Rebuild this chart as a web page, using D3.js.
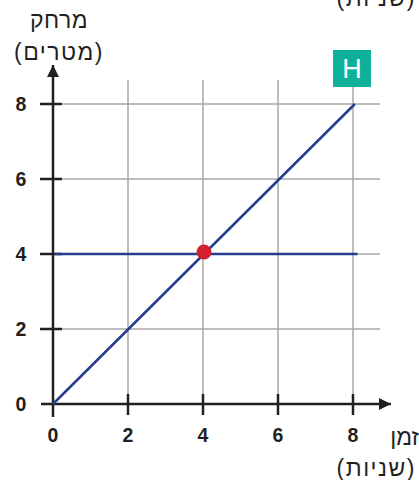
<!DOCTYPE html>
<html>
<head>
<meta charset="utf-8">
<script src="https://cdn.jsdelivr.net/npm/d3@7"></script>
<style>
  body { margin: 0; background: #fff; }
  svg { display: block; font-family: "Liberation Sans", Arial, sans-serif; }
</style>
</head>
<body>
<div id="chart"></div>
<script>
// data
const xTicks = [0, 2, 4, 6, 8];
const yTicks = [0, 2, 4, 6, 8];
const lineA = [[0, 0], [8.05, 8]];      // diagonal
const lineB = [[0.05, 4], [8.12, 4]];   // horizontal
const meetPoint = [[4, 4]];
const yTitle = ["מרחק", "(מטרים)"];
const xTitle = ["זמן", "(שניות)"];
const panelLetter = "H";

const width = 419, height = 480;

const svg = d3.select("#chart").append("svg")
    .attr("width", width)
    .attr("height", height);

// scales
const x = d3.scaleLinear().domain([0, 8]).range([53, 353]);
const y = d3.scaleLinear().domain([0, 8]).range([404, 104]);

// grid
const grid = svg.append("g");
grid.selectAll(".vg")
    .data(xTicks.filter(d => d > 0))
    .join("line")
    .attr("x1", d => x(d)).attr("x2", d => x(d))
    .attr("y1", y(0)).attr("y2", y(8.64))
    .attr("stroke", "#a7a7a7").attr("stroke-width", 1.5);
grid.selectAll(".hg")
    .data(yTicks.filter(d => d > 0))
    .join("line")
    .attr("x1", x(0)).attr("x2", x(8.72))
    .attr("y1", d => y(d)).attr("y2", d => y(d))
    .attr("stroke", "#a7a7a7").attr("stroke-width", 1.5);

// arrowhead
svg.append("defs").append("marker")
    .attr("id", "arrow")
    .attr("viewBox", "0 0 10 10")
    .attr("refX", 10).attr("refY", 5)
    .attr("markerWidth", 16).attr("markerHeight", 12)
    .attr("markerUnits", "userSpaceOnUse")
    .attr("orient", "auto")
    .append("path")
    .attr("d", "M0,0 L10,5 L0,10 z")
    .attr("fill", "#231f20");

// axes
const ax = svg.append("g");
ax.append("line")
    .attr("x1", x(0) - 12).attr("x2", 391)
    .attr("y1", y(0)).attr("y2", y(0))
    .attr("stroke", "#231f20").attr("stroke-width", 2.5)
    .attr("marker-end", "url(#arrow)");
ax.append("line")
    .attr("x1", x(0)).attr("x2", x(0))
    .attr("y1", y(0) + 13).attr("y2", 65)
    .attr("stroke", "#231f20").attr("stroke-width", 2.5)
    .attr("marker-end", "url(#arrow)");

// ticks
ax.selectAll(".xt")
    .data(xTicks.filter(d => d > 0))
    .join("line")
    .attr("x1", d => x(d)).attr("x2", d => x(d))
    .attr("y1", y(0) - 10).attr("y2", y(0) + 11)
    .attr("stroke", "#231f20").attr("stroke-width", 2.5);
ax.selectAll(".yt")
    .data(yTicks.filter(d => d > 0))
    .join("line")
    .attr("x1", x(0) - 13).attr("x2", x(0) + 9)
    .attr("y1", d => y(d)).attr("y2", d => y(d))
    .attr("stroke", "#231f20").attr("stroke-width", 2.5);

// tick labels
ax.selectAll(".xl")
    .data(xTicks)
    .join("text")
    .attr("x", d => x(d))
    .attr("y", 442)
    .attr("text-anchor", "middle")
    .attr("font-size", 19.5).attr("font-weight", "bold")
    .attr("fill", "#231f20")
    .text(d => d);
ax.selectAll(".yl")
    .data(yTicks)
    .join("text")
    .attr("x", 21)
    .attr("y", d => y(d) + 7)
    .attr("text-anchor", "middle")
    .attr("font-size", 19.5).attr("font-weight", "bold")
    .attr("fill", "#231f20")
    .text(d => d);

// lines
const line = d3.line().x(d => x(d[0])).y(d => y(d[1]));
svg.append("path").datum(lineA)
    .attr("d", line)
    .attr("fill", "none").attr("stroke", "#263d8f").attr("stroke-width", 2.5);
svg.append("path").datum(lineB)
    .attr("d", line)
    .attr("fill", "none").attr("stroke", "#263d8f").attr("stroke-width", 2.5);

svg.selectAll(".pt")
    .data(meetPoint)
    .join("circle")
    .attr("cx", d => x(d[0]) + 1)
    .attr("cy", d => y(d[1]) - 2)
    .attr("r", 7.5)
    .attr("fill", "#d3202f");

// titles
svg.selectAll(".yT")
    .data(yTitle)
    .join("text")
    .attr("x", 59)
    .attr("y", (d, i) => 28 + i * 32)
    .attr("text-anchor", "middle")
    .attr("font-size", 23)
    .attr("letter-spacing", (d, i) => i ? 1.5 : 0.5)
    .attr("fill", "#231f20")
    .text(d => d);

svg.append("text")
    .attr("x", 419).attr("y", 445)
    .attr("text-anchor", "end")
    .attr("font-size", 23).attr("fill", "#231f20")
    .text(xTitle[0]);
svg.append("text")
    .attr("x", 416).attr("y", 476)
    .attr("text-anchor", "end")
    .attr("font-size", 23).attr("letter-spacing", 1.5)
    .attr("fill", "#231f20")
    .text(xTitle[1]);

// cut-off label from neighbouring panel
svg.append("text")
    .attr("x", 416).attr("y", 6)
    .attr("text-anchor", "end")
    .attr("font-size", 23).attr("letter-spacing", 1.5)
    .attr("fill", "#231f20")
    .text(xTitle[1]);

// panel badge
const badge = svg.append("g");
badge.append("rect")
    .attr("x", 333).attr("y", 50)
    .attr("width", 38).attr("height", 37)
    .attr("fill", "#0fb09a");
badge.append("text")
    .attr("x", 352).attr("y", 78)
    .attr("text-anchor", "middle")
    .attr("font-size", 27)
    .attr("fill", "#fff")
    .text(panelLetter);
</script>
</body>
</html>
